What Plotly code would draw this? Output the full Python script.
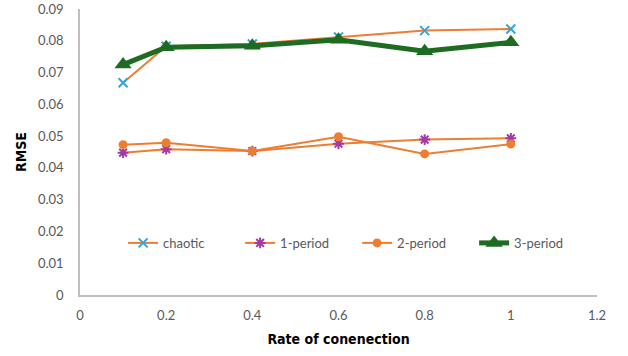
import plotly.graph_objects as go

x = [0.1, 0.2, 0.4, 0.6, 0.8, 1.0]
chaotic = [0.0668, 0.0783, 0.0790, 0.0812, 0.0832, 0.0837]
period1 = [0.0448, 0.0459, 0.0453, 0.0476, 0.0489, 0.0493]
period2 = [0.0473, 0.0479, 0.0453, 0.0498, 0.0444, 0.0475]
period3 = [0.0725, 0.0780, 0.0784, 0.0803, 0.0767, 0.0795]
xticks = [0, 0.2, 0.4, 0.6, 0.8, 1, 1.2]
xticklabels = ["0", "0.2", "0.4", "0.6", "0.8", "1", "1.2"]
yticks = [0, 0.01, 0.02, 0.03, 0.04, 0.05, 0.06, 0.07, 0.08, 0.09]
yticklabels = ["0", "0.01", "0.02", "0.03", "0.04", "0.05", "0.06", "0.07", "0.08", "0.09"]

orange = "#ED7D31"
fig = go.Figure()
fig.add_trace(go.Scatter(x=x, y=chaotic, name="chaotic", mode="lines+markers",
                         line=dict(color=orange, width=2),
                         marker=dict(symbol="x-thin-open", size=9, line=dict(color="#2EA6DF", width=2), color="#2EA6DF")))
fig.add_trace(go.Scatter(x=x, y=period1, name="1-period", mode="lines+markers",
                         line=dict(color=orange, width=2),
                         marker=dict(symbol="asterisk-open", size=9, line=dict(color="#A23AA6", width=2), color="#A23AA6")))
fig.add_trace(go.Scatter(x=x, y=period2, name="2-period", mode="lines+markers",
                         line=dict(color=orange, width=2),
                         marker=dict(symbol="circle", size=9, color=orange)))
fig.add_trace(go.Scatter(x=x, y=period3, name="3-period", mode="lines+markers",
                         line=dict(color="#1E6B22", width=5),
                         marker=dict(symbol="triangle-up", size=15, color="#1E6B22")))

fig.update_layout(
    width=628, height=356,
    margin=dict(l=80, r=31, t=9, b=61, autoexpand=False),
    paper_bgcolor="white", plot_bgcolor="white",
    font=dict(family="Lato", size=13, color="#595959"),
    showlegend=True,
    legend=dict(orientation="h", x=0.536, xanchor="center", y=0.182, yanchor="middle",
                entrywidth=72, entrywidthmode="pixels",
                bgcolor="rgba(0,0,0,0)", font=dict(size=13, color="#595959")),
    xaxis=dict(range=[0, 1.2], showgrid=False, zeroline=False, automargin=False,
               showline=True, linecolor="#BFBFBF", linewidth=1.5, ticks="",
               tickvals=xticks, ticktext=xticklabels, ticklabelstandoff=8,
               tickfont=dict(size=13, color="#595959"),
               title=dict(text="<b>Rate of conenection</b>", font=dict(family="DejaVu Sans Condensed", size=14, color="black"), standoff=12)),
    yaxis=dict(range=[0, 0.09], showgrid=False, zeroline=False, automargin=False,
               showline=True, linecolor="#BFBFBF", linewidth=1.5, ticks="",
               tickvals=yticks, ticktext=yticklabels, ticklabelstandoff=12,
               tickfont=dict(size=13, color="#595959"),
               title=dict(text="<b>RMSE</b>", font=dict(family="DejaVu Sans Condensed", size=14, color="black"), standoff=8)),
)
fig.write_html("out.html", config={"displayModeBar": False},
               post_script="document.body.style.margin='0px';")
